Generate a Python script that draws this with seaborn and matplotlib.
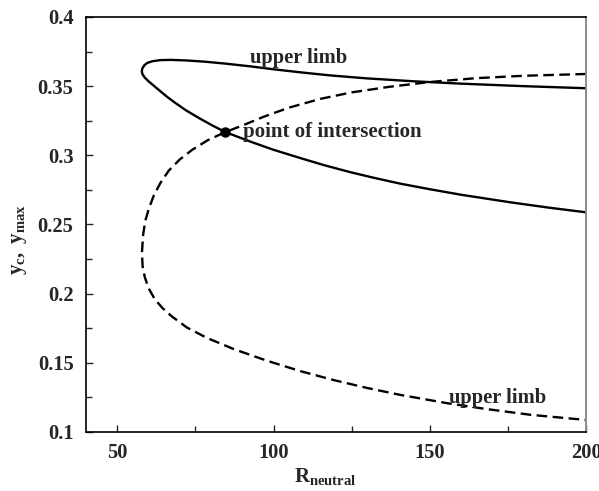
import matplotlib
matplotlib.use("Agg")
import matplotlib.pyplot as plt
from matplotlib.ticker import MultipleLocator
import seaborn as sns
import pandas as pd

# Solid branch (y_c): upper limb from the right, around the turning point, then lower branch
yc_r = [200, 180, 160, 145, 130, 118, 108.6, 100, 92.6, 85, 78, 72, 67, 63.7, 61.2,
        59.6, 58.7, 58.0, 57.85, 58.1, 58.8, 60.0, 61.6, 63.7, 66.0, 68.5, 72.0,
        76.5, 80.5, 84.6, 92.6, 100, 108.6, 116, 124.6, 132, 140.6, 150, 160,
        175.9, 188, 200]
yc_val = [0.3485, 0.3500, 0.3518, 0.3535, 0.3556, 0.3578, 0.3600, 0.3622, 0.3643,
          0.3662, 0.3677, 0.3686, 0.3690, 0.3688, 0.3680, 0.3668, 0.3652, 0.3628,
          0.3605, 0.3585, 0.3562, 0.3535, 0.3505, 0.3465, 0.3422, 0.3380, 0.3325,
          0.3265, 0.3215, 0.3168, 0.3099, 0.3040, 0.2980, 0.2930, 0.2878, 0.2838,
          0.2795, 0.2755, 0.2715, 0.2660, 0.2622, 0.2588]

# Dashed branch (y_max)
ymax_r = [200, 180, 165, 150, 137, 125, 115, 105, 97, 90, 84.6, 79, 74, 70, 66.5,
          63.8, 61.7, 60.2, 59.0, 58.3, 57.9, 58.1, 58.8, 60.0, 62.0, 64.5, 67.5,
          72.3, 78.7, 87.2, 97.9, 108.6, 119.3, 130, 140.6, 155.6, 168.4, 182.3, 200]
ymax_val = [0.3588, 0.3575, 0.3558, 0.3530, 0.3495, 0.3455, 0.3408, 0.3345, 0.3280,
            0.3215, 0.3168, 0.3110, 0.3040, 0.2970, 0.2890, 0.2800, 0.2710, 0.2620,
            0.2530, 0.2430, 0.2300, 0.2200, 0.2120, 0.2040, 0.1960, 0.1895, 0.1835,
            0.1755, 0.1680, 0.1600, 0.1515, 0.1440, 0.1375, 0.1318, 0.1268, 0.1208,
            0.1165, 0.1124, 0.1087]

cross_r, cross_y = [84.6], [0.3168]

x_ticks = [50, 100, 150, 200]
y_ticks = [0.1, 0.15, 0.2, 0.25, 0.3, 0.35, 0.4]
y_tick_labels = ["0.1", "0.15", "0.2", "0.25", "0.3", "0.35", "0.4"]

sns.set_style("ticks")
plt.rcParams["font.family"] = ["Liberation Serif", "DejaVu Serif"]
plt.rcParams["font.weight"] = "bold"
plt.rcParams["mathtext.fontset"] = "custom"
plt.rcParams["mathtext.rm"] = "Liberation Serif:bold"
plt.rcParams["mathtext.it"] = "Liberation Serif:bold"
plt.rcParams["mathtext.bf"] = "Liberation Serif:bold"

fig = plt.figure(figsize=(5.99, 4.91), dpi=100)
ax = fig.add_axes([0.1436, 0.1202, 0.9783 - 0.1436, 0.9654 - 0.1202])

df_c = pd.DataFrame({"R": yc_r, "y": yc_val})
df_m = pd.DataFrame({"R": ymax_r, "y": ymax_val})

sns.lineplot(data=df_c, x="R", y="y", sort=False, estimator=None, ax=ax,
             color="black", linewidth=1.7)
sns.lineplot(data=df_m, x="R", y="y", sort=False, estimator=None, ax=ax,
             color="black", linewidth=1.7, linestyle=(0, (4.5, 2.3)))
ax.plot(cross_r, cross_y, "o", color="black", markersize=6.5, zorder=5)

ax.text(92.6, 0.3705, "upper limb", fontsize=14.8, fontweight="bold",
        ha="left", va="center")
ax.text(90.3, 0.3172, "point of intersection", fontsize=15, fontweight="bold",
        ha="left", va="center")
ax.text(156, 0.1245, "upper limb", fontsize=14.8, fontweight="bold",
        ha="left", va="center", zorder=4)

ax.set_xlim(40, 200)
ax.set_ylim(0.1, 0.4)
ax.set_xticks(x_ticks)
ax.set_yticks(y_ticks)
ax.set_yticklabels(y_tick_labels)
ax.xaxis.set_minor_locator(MultipleLocator(25))
ax.yaxis.set_minor_locator(MultipleLocator(0.025))
ax.tick_params(which="both", direction="in", labelsize=14.8, width=1.0)
ax.tick_params(which="major", length=5)
ax.tick_params(which="minor", length=4)
ax.tick_params(axis="y", pad=9)
ax.tick_params(axis="x", pad=8)
for lbl in ax.get_xticklabels() + ax.get_yticklabels():
    lbl.set_fontweight("bold")

for side in ["left", "bottom", "top"]:
    ax.spines[side].set_linewidth(1.2)
    ax.spines[side].set_color("black")
ax.spines["right"].set_linewidth(1.4)
ax.spines["right"].set_color("#8a8a8a")

ax.set_xlabel(r"$R_{neutral}$", fontsize=15)
ax.set_ylabel(r"$y_c,\ y_{max}$", fontsize=15)
ax.xaxis.set_label_coords(0.478, -0.083)
ax.yaxis.set_label_coords(-0.115, 0.465)

fig.savefig("out.png", dpi=100)
